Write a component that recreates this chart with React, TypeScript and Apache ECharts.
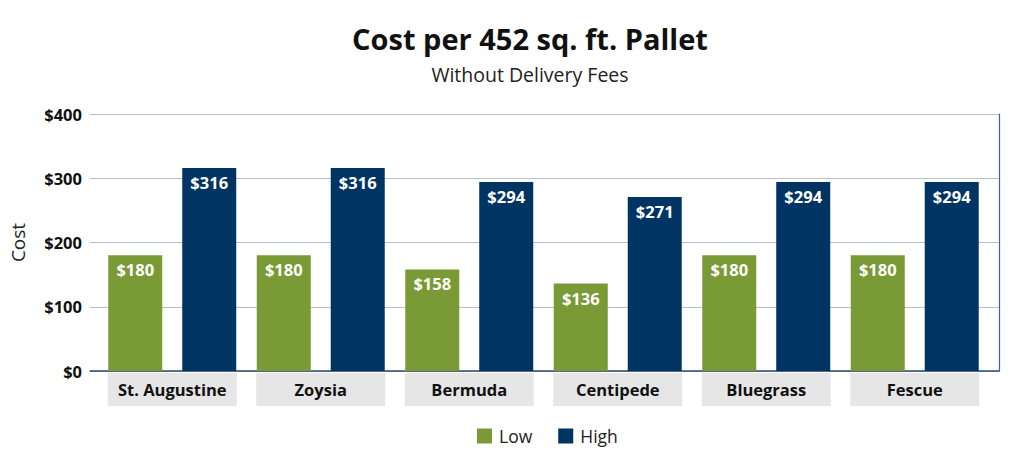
import React, { useEffect, useRef } from "react";
import * as echarts from "echarts";

const categories = ["St. Augustine", "Zoysia", "Bermuda", "Centipede", "Bluegrass", "Fescue"];
const lowValues = [180, 180, 158, 136, 180, 180];
const highValues = [316, 316, 294, 271, 294, 294];
const seriesNames = ["Low", "High"];
const yMin = 0;
const yMax = 400;
const yInterval = 100;

const FONT = "'Open Sans', 'Noto Sans', sans-serif";
const GREEN = "#7a9a35";
const BLUE = "#003462";

export default function App() {
  const ref = useRef<HTMLDivElement>(null);
  useEffect(() => {
    if (!ref.current) return;
    const chart = echarts.init(ref.current, undefined, { renderer: "svg" });
    const barLabel = {
      show: true,
      position: "insideTop",
      distance: 6,
      color: "#ffffff",
      fontFamily: FONT,
      fontWeight: "bold",
      fontSize: 16.5,
      formatter: (p: any) => "$" + p.value,
    };
    chart.setOption({
      animation: false,
      backgroundColor: "#ffffff",
      graphic: [
        {
          type: "text",
          x: 530,
          y: 38,
          style: {
            text: "Cost per 452 sq. ft. Pallet",
            font: `bold 29px ${FONT}`,
            fill: "#111111",
            textAlign: "center",
            textVerticalAlign: "middle",
          },
        },
        {
          type: "text",
          x: 530,
          y: 74,
          style: {
            text: "Without Delivery Fees",
            font: `19.5px ${FONT}`,
            fill: "#222222",
            textAlign: "center",
            textVerticalAlign: "middle",
          },
        },
      ],
      legend: {
        data: seriesNames,
        left: 472,
        top: 422,
        icon: "rect",
        itemWidth: 15,
        itemHeight: 15,
        itemGap: 26,
        textStyle: { fontFamily: FONT, fontSize: 17.5, color: "#222222", padding: [0, 0, 0, 2] },
      },
      grid: [
        { left: 90, right: 25, top: 114, bottom: 97 },
        { left: 98, right: 35, top: 114, bottom: 97 },
      ],
      xAxis: [
        {
          gridIndex: 0,
          type: "value",
          min: 0,
          max: 1,
          axisLine: { show: true, lineStyle: { color: "#2d4b6b", width: 1.5 } },
          axisTick: { show: false },
          axisLabel: { show: false },
          splitLine: { show: false },
        },
        {
          gridIndex: 1,
          type: "category",
          data: categories,
          axisLine: { show: false },
          axisTick: { show: false },
          axisLabel: {
            margin: 2,
            width: 129,
            height: 33,
            lineHeight: 33,
            align: "center",
            backgroundColor: "#e6e6e6",
            color: "#111111",
            fontFamily: FONT,
            fontWeight: "bold",
            fontSize: 16.5,
            interval: 0,
          },
        },
      ],
      yAxis: [
        {
          gridIndex: 0,
          type: "value",
          min: yMin,
          max: yMax,
          interval: yInterval,
          axisLine: { show: false },
          axisTick: { show: false },
          axisLabel: {
            formatter: (v: number) => "$" + v,
            color: "#111111",
            fontFamily: FONT,
            fontWeight: "bold",
            fontSize: 16.5,
            margin: 8,
          },
          splitLine: { lineStyle: { color: "#b5c0cc", width: 1.2 } },
          name: "Cost",
          nameLocation: "middle",
          nameGap: 63,
          nameRotate: 90,
          nameTextStyle: { fontFamily: FONT, fontSize: 19, color: "#222222" },
        },
        {
          gridIndex: 0,
          type: "value",
          position: "right",
          min: yMin,
          max: yMax,
          interval: yInterval,
          axisLine: { show: true, lineStyle: { color: "#4b6280", width: 1.2 } },
          axisTick: { show: false },
          axisLabel: { show: false },
          splitLine: { show: false },
        },
        {
          gridIndex: 1,
          type: "value",
          min: yMin,
          max: yMax,
          interval: yInterval,
          show: false,
          splitLine: { show: false },
        },
      ],
      series: [
        {
          name: seriesNames[0],
          type: "bar",
          xAxisIndex: 1,
          yAxisIndex: 2,
          data: lowValues,
          barWidth: 54,
          barGap: "37%",
          itemStyle: { color: GREEN },
          label: barLabel,
        },
        {
          name: seriesNames[1],
          type: "bar",
          xAxisIndex: 1,
          yAxisIndex: 2,
          data: highValues,
          barWidth: 54,
          barGap: "37%",
          itemStyle: { color: BLUE },
          label: barLabel,
        },
      ],
    });
    return () => chart.dispose();
  }, []);
  return (
    <div
      ref={ref}
      style={{ position: "fixed", left: 0, top: 0, width: 1024, height: 468 }}
    />
  );
}
